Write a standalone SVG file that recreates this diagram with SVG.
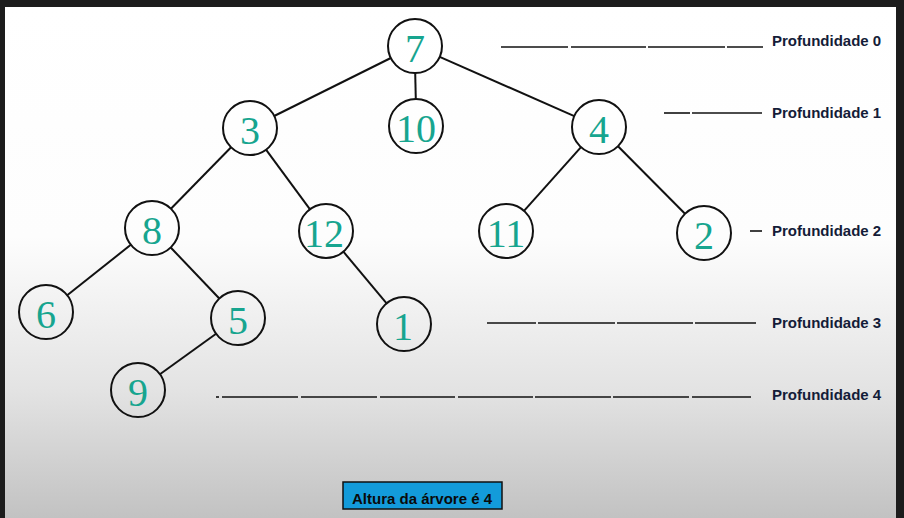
<svg xmlns="http://www.w3.org/2000/svg" width="904" height="518" viewBox="0 0 904 518">
<defs>
<linearGradient id="bg" x1="0" y1="0" x2="0" y2="1">
<stop offset="0" stop-color="#ffffff"/>
<stop offset="0.45" stop-color="#fdfdfd"/>
<stop offset="0.75" stop-color="#e3e3e3"/>
<stop offset="1" stop-color="#c2c2c2"/>
</linearGradient>
<style>
.n circle{fill:none;stroke:#111;stroke-width:2}
.n text{font-family:"Liberation Serif","Times New Roman",serif;font-size:40px;fill:#17a58f;text-anchor:middle}
.e line{stroke:#111;stroke-width:2}
.d line{stroke:#111;stroke-width:1.6}
.lbl{font-family:"Liberation Sans",Arial,sans-serif;font-weight:bold;font-size:15px;fill:#141c38}
</style>
</defs>
<rect x="0" y="0" width="904" height="518" fill="#1c1c1c"/>
<rect x="5" y="7" width="891" height="511" fill="url(#bg)"/>
<g id="connectors" class="e">
<line x1="390.8" y1="58" x2="274.2" y2="116"/>
<line x1="415.2" y1="73" x2="415.8" y2="99"/>
<line x1="439.7" y1="56.9" x2="574.3" y2="116.1"/>
<line x1="231.1" y1="147.3" x2="170.9" y2="208.7"/>
<line x1="266" y1="149.7" x2="310" y2="209.3"/>
<line x1="581" y1="147.1" x2="524" y2="210.9"/>
<line x1="618" y1="146.2" x2="685" y2="213.8"/>
<line x1="130.8" y1="244.8" x2="67.2" y2="295.2"/>
<line x1="170.7" y1="247.5" x2="219.3" y2="298.5"/>
<line x1="343.4" y1="251.7" x2="386.6" y2="303.3"/>
<line x1="216.1" y1="333.8" x2="159.9" y2="374.2"/>
</g>
<g id="n7" class="n"><circle cx="415" cy="46" r="27"/><text x="415" y="62">7</text></g>
<g id="n3" class="n"><circle cx="250" cy="128" r="27"/><text x="250" y="144">3</text></g>
<g id="n10" class="n"><circle cx="416" cy="126" r="27"/><text x="416" y="142">10</text></g>
<g id="n4" class="n"><circle cx="599" cy="127" r="27"/><text x="599" y="143">4</text></g>
<g id="n8" class="n"><circle cx="152" cy="228" r="27"/><text x="152" y="244">8</text></g>
<g id="n12" class="n"><circle cx="326" cy="231" r="27"/><text x="324" y="247">12</text></g>
<g id="n11" class="n"><circle cx="506" cy="231" r="27"/><text x="506" y="247">11</text></g>
<g id="n2" class="n"><circle cx="704" cy="233" r="27"/><text x="704" y="249">2</text></g>
<g id="n6" class="n"><circle cx="46" cy="312" r="27"/><text x="46" y="328">6</text></g>
<g id="n5" class="n"><circle cx="238" cy="318" r="27"/><text x="238" y="334">5</text></g>
<g id="n1" class="n"><circle cx="404" cy="324" r="27"/><text x="403" y="340">1</text></g>
<g id="n9" class="n"><circle cx="138" cy="390" r="27"/><text x="138" y="406">9</text></g>
<g id="depth-lines" class="d">
<line x1="501" y1="47" x2="568" y2="47"/><line x1="571" y1="47" x2="646" y2="47"/><line x1="648" y1="47" x2="725" y2="47"/><line x1="727" y1="47" x2="763" y2="47"/>
<line x1="664" y1="113" x2="690" y2="113"/><line x1="692" y1="113" x2="762" y2="113"/>
<line x1="750" y1="231" x2="762" y2="231"/>
<line x1="487" y1="323" x2="536" y2="323"/><line x1="538" y1="323" x2="615" y2="323"/><line x1="617" y1="323" x2="693" y2="323"/><line x1="695" y1="323" x2="756" y2="323"/>
<line x1="216" y1="397" x2="219" y2="397"/><line x1="222" y1="397" x2="298" y2="397"/><line x1="301" y1="397" x2="377" y2="397"/><line x1="380" y1="397" x2="455" y2="397"/><line x1="458" y1="397" x2="533" y2="397"/><line x1="535" y1="397" x2="611" y2="397"/><line x1="613" y1="397" x2="689" y2="397"/><line x1="692" y1="397" x2="751" y2="397"/>
</g>
<g id="labels">
<text class="lbl" x="772" y="46">Profundidade 0</text>
<text class="lbl" x="772" y="118">Profundidade 1</text>
<text class="lbl" x="772" y="236">Profundidade 2</text>
<text class="lbl" x="772" y="328">Profundidade 3</text>
<text class="lbl" x="772" y="400">Profundidade 4</text>
</g>
<g id="height-box">
<rect x="343" y="482" width="159" height="27" fill="#139bda" stroke="#111" stroke-width="1.5"/>
<text x="422" y="504" text-anchor="middle" font-family="'Liberation Sans',Arial,sans-serif" font-weight="bold" font-size="15" fill="#0a0a0a">Altura da árvore é 4</text>
</g>
</svg>
